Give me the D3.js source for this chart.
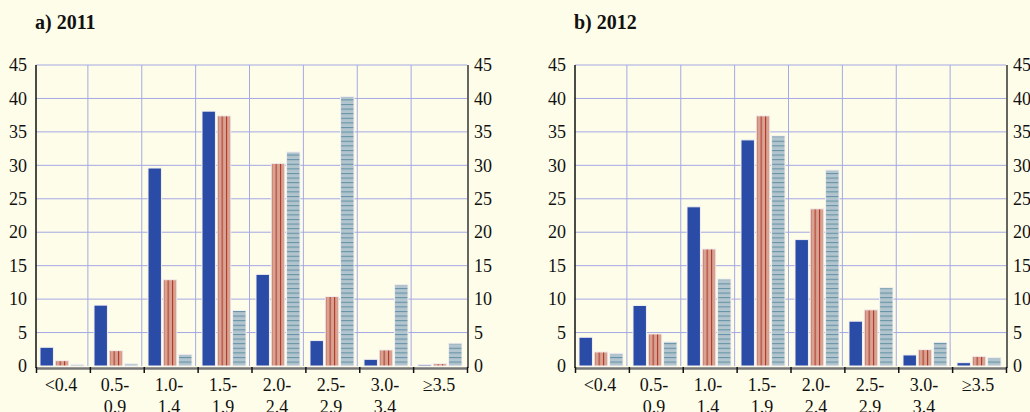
<!DOCTYPE html>
<html lang="en">
<head>
    <meta charset="UTF-8">
    <title>2011 / 2012</title>
    <script src="https://d3js.org/d3.v7.min.js"></script>
    <style>
        body {
            margin: 0;
            background: #fefde9;
            font-family: 'Liberation Serif', 'Times New Roman', serif;
        }
        svg { display: block; }
    </style>
</head>
<body>
    <div id="chart"></div>

    <script>
        // categories and series
        const categories = ["<0.4", "0.5-\n0.9", "1.0-\n1.4", "1.5-\n1.9", "2.0-\n2.4", "2.5-\n2.9", "3.0-\n3.4", "\u22653.5"];
        const seriesKeys = ["s1", "s2", "s3"];
        const yTicks = [0, 5, 10, 15, 20, 25, 30, 35, 40, 45];

        // a) 2011
        const blue2011 = [2.8, 9.1, 29.6, 38.1, 13.7, 3.8, 1.0, 0.2];
        const red2011 = [0.8, 2.3, 12.9, 37.4, 30.3, 10.4, 2.4, 0.35];
        const grey2011 = [0.25, 0.35, 1.75, 8.3, 32.0, 40.3, 12.2, 3.4];

        // b) 2012
        const blue2012 = [4.3, 9.05, 23.8, 33.8, 18.9, 6.7, 1.65, 0.5];
        const red2012 = [2.1, 4.8, 17.5, 37.4, 23.5, 8.4, 2.45, 1.45];
        const grey2012 = [1.9, 3.6, 13.0, 34.4, 29.3, 11.7, 3.55, 1.25];

        const width = 1030;
        const height = 412;

        const svg = d3.select("#chart")
            .append("svg")
            .attr("width", width)
            .attr("height", height);

        svg.append("rect")
            .attr("width", width)
            .attr("height", height)
            .attr("fill", "#fefde9");

        // stripe patterns
        const defs = svg.append("defs");
        const pRed = defs.append("pattern")
            .attr("id", "redStripe")
            .attr("patternUnits", "userSpaceOnUse")
            .attr("width", 4.4).attr("height", 10);
        pRed.append("rect").attr("width", 4.4).attr("height", 10).attr("fill", "#d8a392");
        pRed.append("rect").attr("x", 2.6).attr("width", 1.1).attr("height", 10).attr("fill", "#b23a2c");

        const pGrey = defs.append("pattern")
            .attr("id", "greyStripe")
            .attr("patternUnits", "userSpaceOnUse")
            .attr("width", 10).attr("height", 4.6);
        pGrey.append("rect").attr("width", 10).attr("height", 4.6).attr("fill", "#b2c4cd");
        pGrey.append("rect").attr("y", 2.8).attr("width", 10).attr("height", 1).attr("fill", "#5f8fa3");

        const fills = { s1: "#2a4ca6", s2: "url(#redStripe)", s3: "url(#greyStripe)" };

        function drawPanel(dx, title, blue, red, grey) {
            const x0 = 36 + dx, x1 = 467 + dx;
            const yTop = 65, yBot = 366;

            const g = svg.append("g");

            const x = d3.scaleBand().domain(d3.range(categories.length)).range([x0 - 1, x1]).padding(0);
            const xs = d3.scaleBand().domain(seriesKeys).range([5, 49]).paddingInner(0.12);
            const xEdge = d3.scaleLinear().domain([0, categories.length]).range([x0, x1]);
            const y = d3.scaleLinear().domain([0, 45]).range([yBot, yTop]);

            // grid
            g.append("g").selectAll("line.h")
                .data(yTicks.filter(d => d > 0))
                .join("line")
                .attr("x1", x0).attr("x2", x1)
                .attr("y1", d => y(d)).attr("y2", d => y(d))
                .attr("stroke", "#a4a8e4").attr("stroke-width", 1);
            g.append("g").selectAll("line.v")
                .data(d3.range(1, categories.length))
                .join("line")
                .attr("x1", d => xEdge(d) - 2).attr("x2", d => xEdge(d) - 2)
                .attr("y1", yTop).attr("y2", yBot)
                .attr("stroke", "#a4a8e4").attr("stroke-width", 1);

            // bars
            const rows = categories.map((c, i) => ({ i, s1: blue[i], s2: red[i], s3: grey[i] }));
            g.append("g").selectAll("g")
                .data(rows)
                .join("g")
                .attr("transform", d => `translate(${x(d.i)},0)`)
                .selectAll("rect")
                .data(d => seriesKeys.map(k => ({ k, v: d[k] })))
                .join("rect")
                .attr("x", d => xs(d.k))
                .attr("width", xs.bandwidth())
                .attr("y", d => y(d.v))
                .attr("height", d => yBot - y(d.v))
                .attr("fill", d => fills[d.k])
                .attr("stroke", "#f4f0f0")
                .attr("stroke-width", 1);

            // left axis
            g.append("line")
                .attr("x1", x0).attr("x2", x0)
                .attr("y1", yTop).attr("y2", yBot + 2)
                .attr("stroke", "#111").attr("stroke-width", 1.5);
            // right axis
            g.append("line")
                .attr("x1", x1 + 1).attr("x2", x1 + 1)
                .attr("y1", yTop).attr("y2", yBot + 2)
                .attr("stroke", "#333").attr("stroke-width", 1.5);

            const yl = d3.axisLeft(y).tickValues(yTicks).tickSize(0).tickPadding(9);
            g.append("g")
                .attr("transform", `translate(${x0},0)`)
                .call(yl)
                .call(a => a.select(".domain").remove())
                .selectAll("text")
                .attr("font-family", "'Liberation Serif', serif")
                .attr("font-size", 18).attr("fill", "#111");
            const yr = d3.axisRight(y).tickValues(yTicks).tickSize(0).tickPadding(6);
            g.append("g")
                .attr("transform", `translate(${x1 + 1},0)`)
                .call(yr)
                .call(a => a.select(".domain").remove())
                .selectAll("text")
                .attr("font-family", "'Liberation Serif', serif")
                .attr("font-size", 18).attr("fill", "#111");

            // bottom axis
            g.append("line")
                .attr("x1", x0).attr("x2", x1 + 1)
                .attr("y1", yBot + 2.5).attr("y2", yBot + 2.5)
                .attr("stroke", "#777").attr("stroke-width", 2.5);
            g.append("g")
                .attr("transform", `translate(0,${yBot + 1})`)
                .call(d3.axisBottom(xEdge).tickValues(d3.range(categories.length + 1)).tickSize(6).tickFormat(""))
                .call(a => a.select(".domain").remove())
                .selectAll("line")
                .attr("stroke", "#111").attr("stroke-width", 1.5);

            // category labels (second line runs off the bottom, as in the source)
            const lab = g.append("g").selectAll("text")
                .data(categories)
                .join("text")
                .attr("x", (d, i) => x(i) + x.bandwidth() / 2 - 1)
                .attr("y", 391)
                .attr("text-anchor", "middle")
                .attr("font-family", "'Liberation Serif', serif")
                .attr("font-size", 18)
                .attr("fill", "#111");
            lab.each(function (d) {
                const t = d3.select(this);
                d.split("\n").forEach((s, k) => {
                    t.append("tspan")
                        .attr("x", t.attr("x"))
                        .attr("dy", k === 0 ? 0 : 22)
                        .text(s);
                });
            });

            // title
            g.append("text")
                .attr("x", x0 - 1)
                .attr("y", 29)
                .attr("font-family", "'Liberation Serif', serif")
                .attr("font-weight", "bold")
                .attr("font-size", 20)
                .attr("fill", "#111")
                .text(title);
        }

        drawPanel(0, "a) 2011", blue2011, red2011, grey2011);
        drawPanel(539, "b) 2012", blue2012, red2012, grey2012);
    </script>
</body>
</html>
